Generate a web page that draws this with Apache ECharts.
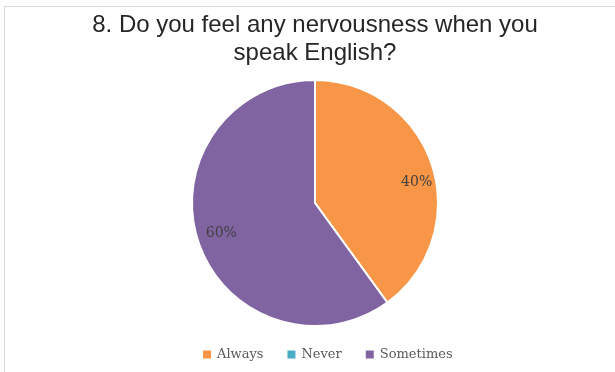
<!DOCTYPE html>
<html>
<head>
<meta charset="utf-8">
<script src="https://cdn.jsdelivr.net/npm/echarts@6/dist/echarts.min.js"></script>
<style>
  html, body { margin: 0; padding: 0; background: #fff; }
  #frame { position: absolute; left: 4px; top: 6px; width: 700px; height: 400px;
           border-left: 1px solid #d9d9d9; border-top: 1px solid #d9d9d9; pointer-events: none; }
  #main { position: absolute; left: 0; top: 0; width: 615px; height: 372px; }
</style>
</head>
<body>
<div id="main"></div>
<div id="frame"></div>
<script>
// chart data
var categories = ['Always', 'Never', 'Sometimes']
var values = [40, 0, 60]
var colors = ['#f79646', '#4bacc6', '#8064a2']

var chart = echarts.init(document.getElementById('main'))

var pieData = categories.map(function (name, i) {
  return { name: name, value: values[i], itemStyle: { color: colors[i] } }
})

chart.setOption({
  animation: false,
  title: {
    text: '8. Do you feel any nervousness when you\nspeak English?',
    left: 310,
    top: 6,
    textAlign: 'center',
    textStyle: {
      fontFamily: 'Liberation Sans',
      fontWeight: 'normal',
      fontSize: 24,
      lineHeight: 28,
      color: '#262626'
    }
  },
  legend: {
    data: categories,
    bottom: 6,
    left: 196,
    icon: 'rect',
    itemWidth: 10,
    itemHeight: 10,
    itemGap: 22,
    textStyle: {
      fontFamily: 'DejaVu Serif',
      fontSize: 13,
      color: '#595959'
    }
  },
  series: [{
    // visible pie
    type: 'pie',
    center: [315, 203],
    radius: 123,
    startAngle: 90,
    clockwise: true,
    label: { show: false },
    labelLine: { show: false },
    itemStyle: { borderColor: '#fff', borderWidth: 2 },
    emphasis: { disabled: true },
    data: pieData
  }, {
    // transparent ring that carries the percentage labels
    type: 'pie',
    center: [315, 203],
    radius: [68, 123],
    startAngle: 90,
    clockwise: true,
    silent: true,
    legendHoverLink: false,
    itemStyle: { color: 'rgba(0,0,0,0)' },
    label: {
      show: true,
      position: 'inside',
      fontFamily: 'DejaVu Serif',
      fontSize: 14,
      color: '#404040',
      formatter: function (p) {
        return p.value > 0 ? p.percent.toFixed(0) + '%' : ''
      }
    },
    labelLine: { show: false },
    data: categories.map(function (name, i) {
      return {
        name: name + ' ',
        value: values[i],
        label: i === 0 ? { offset: [8, 10] } : {}
      }
    })
  }]
})
</script>
</body>
</html>
